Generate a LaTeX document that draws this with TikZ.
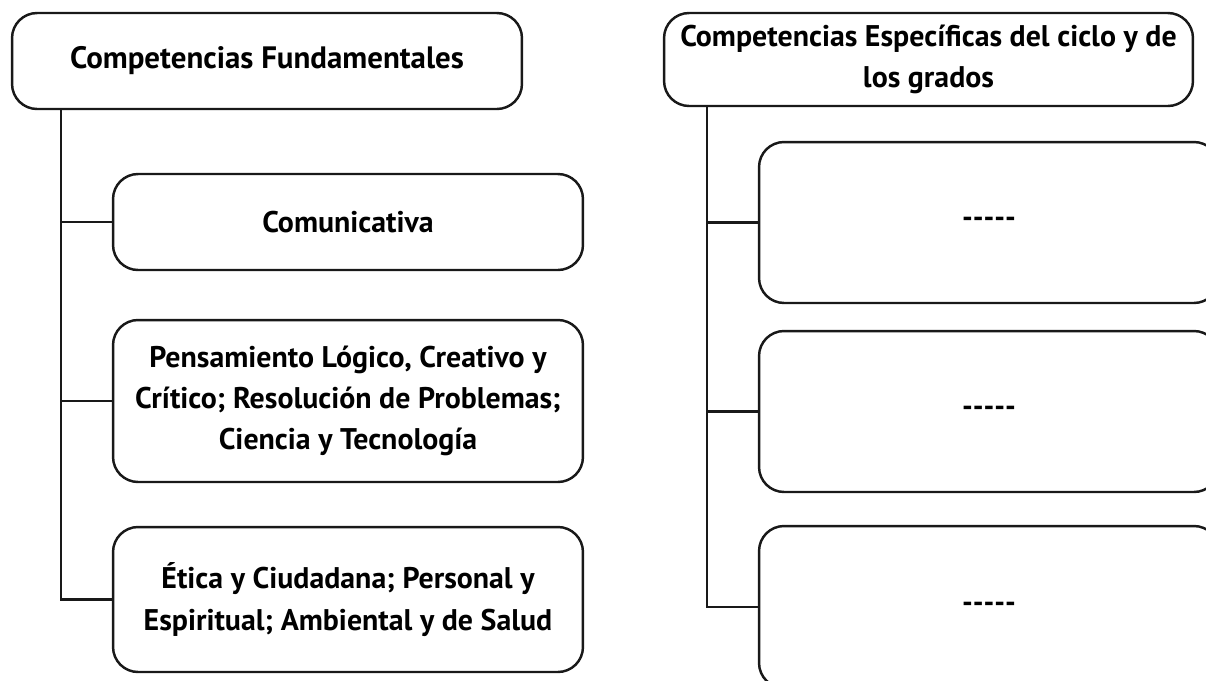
\documentclass[tikz,border=0pt]{standalone}
\usepackage{fontspec}
\setmainfont{PT Sans}
\newcommand\fivedash{\hbox{-}\hbox{-}\hbox{-}\hbox{-}\hbox{-}}
\begin{document}
\begin{tikzpicture}[x=0.02cm,y=-0.02cm]
\tikzset{box style/.style={shape=rectangle,draw=black!90, line width=1.4pt, rounded corners=0.5cm,
  align=center, inner sep=0pt, font=\fontsize{17}{23.5}\selectfont\bfseries},
  head style/.style={box style, font=\fontsize{17.6}{23.5}\selectfont\bfseries},
  link style/.style={draw=black!90, line width=1.4pt}}
\useasboundingbox (0,0) rectangle (1206,680);
\clip (0,0) rectangle (1206,680);

\node[head style, minimum width=10.2cm, minimum height=1.92cm] at (267, 61)    (fund)  {Competencias Fundamentales};
\node[box style, minimum width=9.4cm, minimum height=1.92cm]  at (348, 222)   (com)   {Comunicativa};
\node[box style, minimum width=9.4cm, minimum height=3.24cm]  at (348, 401)   (pens)  {Pensamiento Lógico, Creativo y\\Crítico; Resolución de Problemas;\\Ciencia y Tecnología};
\node[box style, minimum width=9.4cm, minimum height=2.9cm]   at (348, 599.5) (etica) {Ética y Ciudadana; Personal y\\Espiritual; Ambiental y de Salud};

\node[box style, minimum width=10.58cm, minimum height=1.86cm] at (928.5, 59.5) (esp) {Competencias Específicas del ciclo y de\\los grados};
\node[box style, minimum width=9.2cm, minimum height=3.22cm] at (989, 222.5) (e1) {\fivedash};
\node[box style, minimum width=9.2cm, minimum height=3.22cm] at (989, 411.5) (e2) {\fivedash};
\node[box style, minimum width=9.2cm, minimum height=3.24cm] at (989, 607)   (e3) {\fivedash};

\coordinate (fundroot) at (61, 0);
\coordinate (esproot) at (707, 0);

\draw[link style] (fundroot |- fund.south) |- (etica.west)
            (fundroot |- com.west) -- (com.west)
            (fundroot |- pens.west) -- (pens.west)
;
\draw[link style] (esproot |- esp.south) |- (e3.west)
            (esproot |- e1.west) -- (e1.west)
            (esproot |- e2.west) -- (e2.west)
;
\end{tikzpicture}
\end{document}
